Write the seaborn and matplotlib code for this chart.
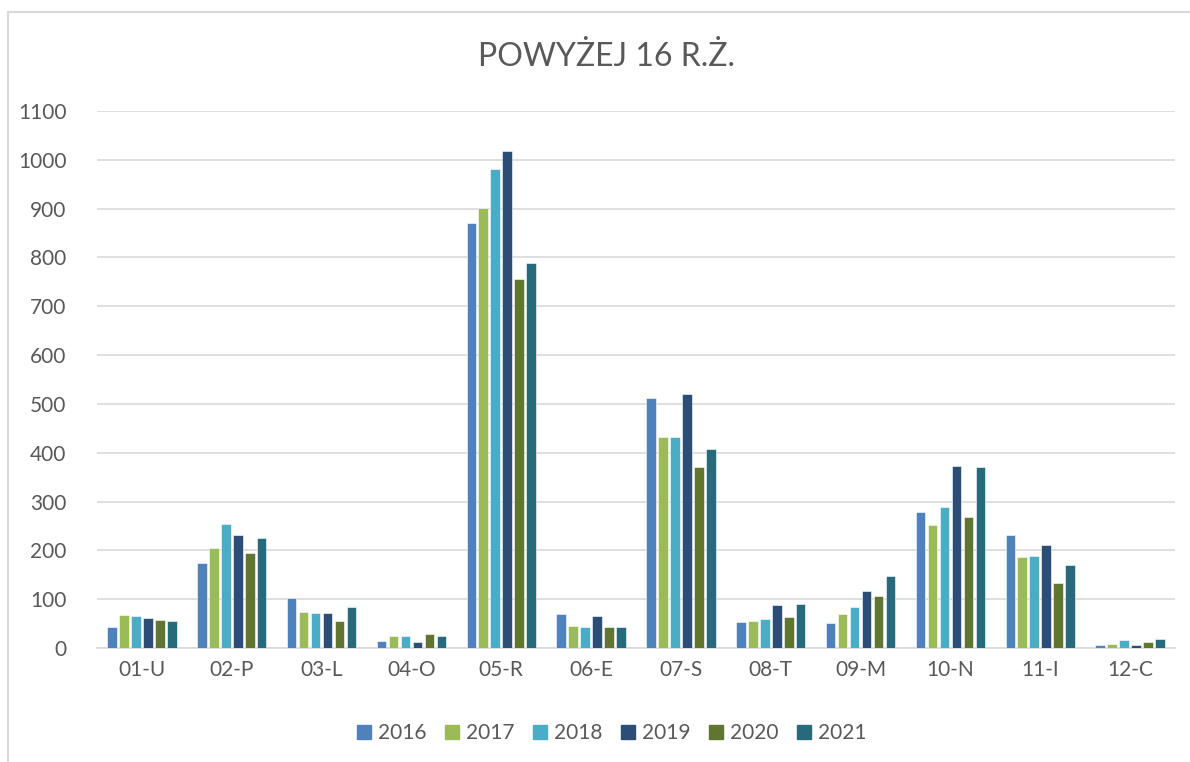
import pandas as pd
import matplotlib.pyplot as plt
import seaborn as sns
from matplotlib.lines import Line2D

# --- Data ---
categories = ['01-U', '02-P', '03-L', '04-O', '05-R', '06-E',
              '07-S', '08-T', '09-M', '10-N', '11-I', '12-C']
years = ['2016', '2017', '2018', '2019', '2020', '2021']

v2016 = [44, 174, 102, 14, 871, 69, 513, 53, 52, 279, 231, 6]
v2017 = [68, 204, 74, 24, 902, 45, 432, 56, 69, 252, 187, 8]
v2018 = [65, 255, 71, 24, 981, 43, 433, 59, 84, 289, 188, 16]
v2019 = [61, 231, 72, 12, 1019, 66, 521, 88, 116, 373, 212, 7]
v2020 = [57, 194, 55, 29, 756, 42, 370, 64, 106, 269, 134, 12]
v2021 = [55, 225, 85, 25, 788, 42, 407, 90, 148, 371, 171, 19]

colors = ['#4F81BD', '#9BBB59', '#4BACC6', '#2C4D75', '#5F7530', '#276A7C']

# --- Long format table for seaborn ---
series = [v2016, v2017, v2018, v2019, v2020, v2021]
rows = []
for year, vals in zip(years, series):
    for cat, v in zip(categories, vals):
        rows.append({'kategoria': cat, 'rok': year, 'liczba': v})
df = pd.DataFrame(rows)

sns.set_style("white")
plt.rcParams['font.family'] = ['Lato', 'DejaVu Sans']
text_color = '#595959'
grid_color = '#D9D9D9'

fig = plt.figure(figsize=(11.9, 7.62), dpi=100)
ax = fig.add_axes([97 / 1190, 1 - 648 / 762, (1175 - 97) / 1190, (648 - 111) / 762])

sns.barplot(data=df, x='kategoria', y='liczba', hue='rok', palette=colors,
            saturation=1, width=0.8, gap=0.2, ax=ax, legend=False, errorbar=None,
            edgecolor='white', linewidth=0.4, zorder=3)

ax.set_ylim(0, 1100)
ax.set_xlim(-0.5, len(categories) - 0.5)
ax.set_yticks(range(0, 1101, 100))
ax.yaxis.grid(True, color=grid_color, linewidth=1.2, zorder=0)
ax.set_axisbelow(True)
for side in ['top', 'right', 'left']:
    ax.spines[side].set_visible(False)
ax.spines['bottom'].set_color(grid_color)
ax.spines['bottom'].set_linewidth(1.2)
ax.tick_params(axis='both', length=0, labelsize=15, labelcolor=text_color)
ax.tick_params(axis='y', pad=22)
ax.tick_params(axis='x', pad=9)
ax.set_xlabel('')
ax.set_ylabel('')

# --- Title ---
fig.text(606 / 1190, 1 - 57 / 762, 'POWYŻEJ 16 R.Ż.', ha='center', va='center',
         fontsize=23, color=text_color)

# --- Legend ---
handles = [Line2D([0], [0], marker='s', linestyle='', markersize=10,
                  markerfacecolor=c, markeredgecolor=c) for c in colors]
fig.legend(handles, years, loc='center', bbox_to_anchor=(610 / 1190, 1 - 733 / 762),
           ncol=6, frameon=False, fontsize=15, labelcolor=text_color,
           handletextpad=0.15, columnspacing=0.75, handlelength=1.0)

# --- Outer chart frame (top and left edges visible) ---
fig.add_artist(Line2D([8 / 1190, 1.0], [1 - 12 / 762, 1 - 12 / 762],
                      color=grid_color, linewidth=1.5, transform=fig.transFigure))
fig.add_artist(Line2D([8 / 1190, 8 / 1190], [0.0, 1 - 12 / 762],
                      color=grid_color, linewidth=1.5, transform=fig.transFigure))

plt.savefig('out.png', dpi=100)
plt.close()
